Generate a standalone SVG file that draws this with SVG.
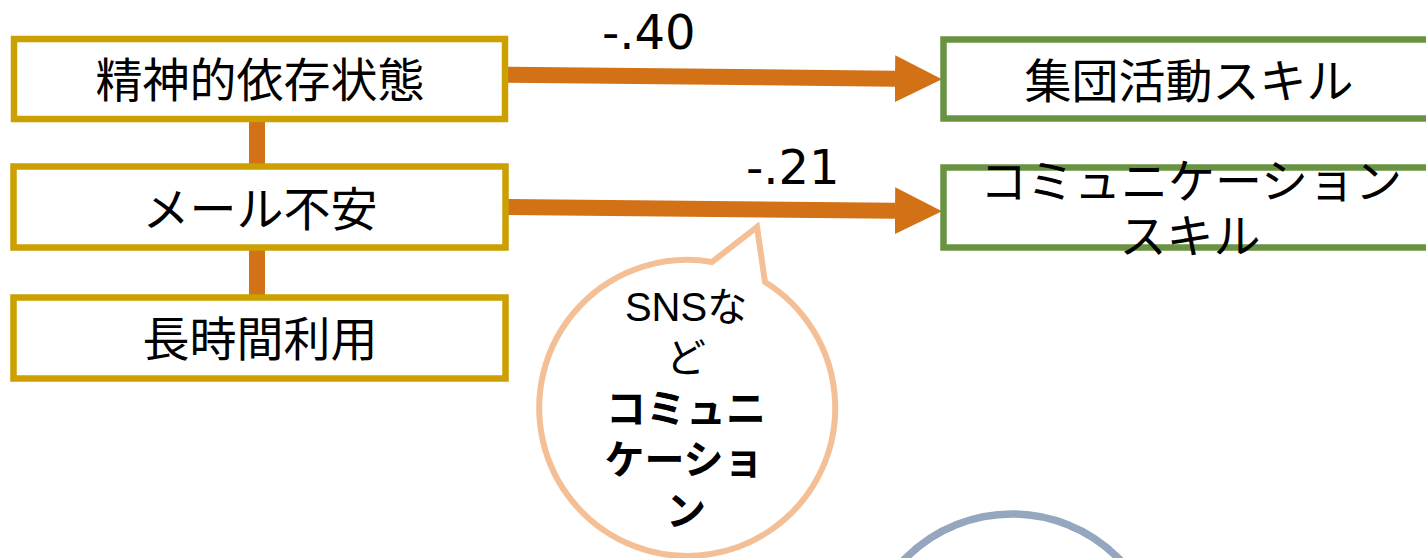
<svg xmlns="http://www.w3.org/2000/svg" width="1426" height="558" viewBox="0 0 1426 558">
  <defs>
    <style>
      .cause { fill: #ffffff; stroke: #CCA000; stroke-width: 6.5; }
      .effect { fill: #ffffff; stroke: #699343; stroke-width: 6.5; }
      .jp { font-family: "Noto Sans CJK JP", "Noto Sans", sans-serif; fill: #000000; }
      .lbl { font-family: "DejaVu Sans", "Noto Sans", sans-serif; font-size: 48px; fill: #000000; }
      .box-text { font-size: 47px; text-anchor: middle; }
      .link { stroke: #D27116; stroke-width: 16; fill: none; }
      .path-arrow { stroke: #D27116; stroke-width: 16; fill: none; marker-end: url(#head); }
      .bubble { fill: #ffffff; stroke: #F5BF96; stroke-width: 6; stroke-linejoin: miter; }
      .bubble-text { font-size: 40px; text-anchor: middle; }
    </style>
    <marker id="head" markerUnits="userSpaceOnUse" markerWidth="48" markerHeight="48" refX="0" refY="23.5" orient="auto">
      <path d="M0,0 L47,23.5 L0,47 Z" fill="#D27116"/>
    </marker>
  </defs>

  <rect width="1426" height="558" fill="#ffffff"/>

  <!-- connectors -->
  <g id="connectors">
    <line class="link" x1="257" y1="120" x2="257" y2="166"/>
    <line class="link" x1="257" y1="249" x2="257" y2="297"/>
    <line class="path-arrow" x1="506" y1="74.7" x2="895" y2="78.7"/>
    <line class="path-arrow" x1="506" y1="207" x2="895" y2="210.7"/>
    <text class="lbl" x="602" y="49">-.40</text>
    <text class="lbl" x="746" y="184">-.21</text>
  </g>

  <!-- predictor variables -->
  <g id="node-dependence">
    <rect class="cause" x="14" y="39" width="491" height="80"/>
    <text class="jp box-text" x="260" y="97">精神的依存状態</text>
  </g>
  <g id="node-mail-anxiety">
    <rect class="cause" x="13.5" y="166.5" width="492" height="81"/>
    <text class="jp box-text" x="260" y="226">メール不安</text>
  </g>
  <g id="node-long-use">
    <rect class="cause" x="13.5" y="297.5" width="492" height="81"/>
    <text class="jp box-text" x="260" y="356">長時間利用</text>
  </g>

  <!-- outcome variables -->
  <g id="node-group-skill">
    <rect class="effect" x="943.5" y="39.5" width="500" height="79"/>
    <text class="jp box-text" x="1189" y="98">集団活動スキル</text>
  </g>
  <g id="node-comm-skill">
    <rect class="effect" x="943.5" y="167.5" width="500" height="80"/>
    <text class="jp box-text" x="1191" y="198">コミュニケーション</text>
    <text class="jp box-text" x="1190" y="253">スキル</text>
  </g>

  <!-- speech bubble -->
  <g id="bubble-sns">
    <path class="bubble" d="M712,262 L757,227 L765,282 A148,148 0 1 1 712,262 Z"/>
    <text class="jp bubble-text" x="686" y="321"><tspan font-family="Liberation Sans, Arial, sans-serif">SNS</tspan>な</text>
    <text class="jp bubble-text" x="686" y="372">ど</text>
    <text class="jp bubble-text" x="686" y="423" font-weight="bold">コミュニ</text>
    <text class="jp bubble-text" x="684" y="474" font-weight="bold">ケーショ</text>
    <text class="jp bubble-text" x="686" y="525" font-weight="bold">ン</text>
  </g>

  <!-- partial circle at the lower edge -->
  <g id="circle-bottom">
    <circle cx="1012" cy="664" r="150" fill="#ffffff" stroke="#94A7BE" stroke-width="7.5"/>
  </g>
</svg>
